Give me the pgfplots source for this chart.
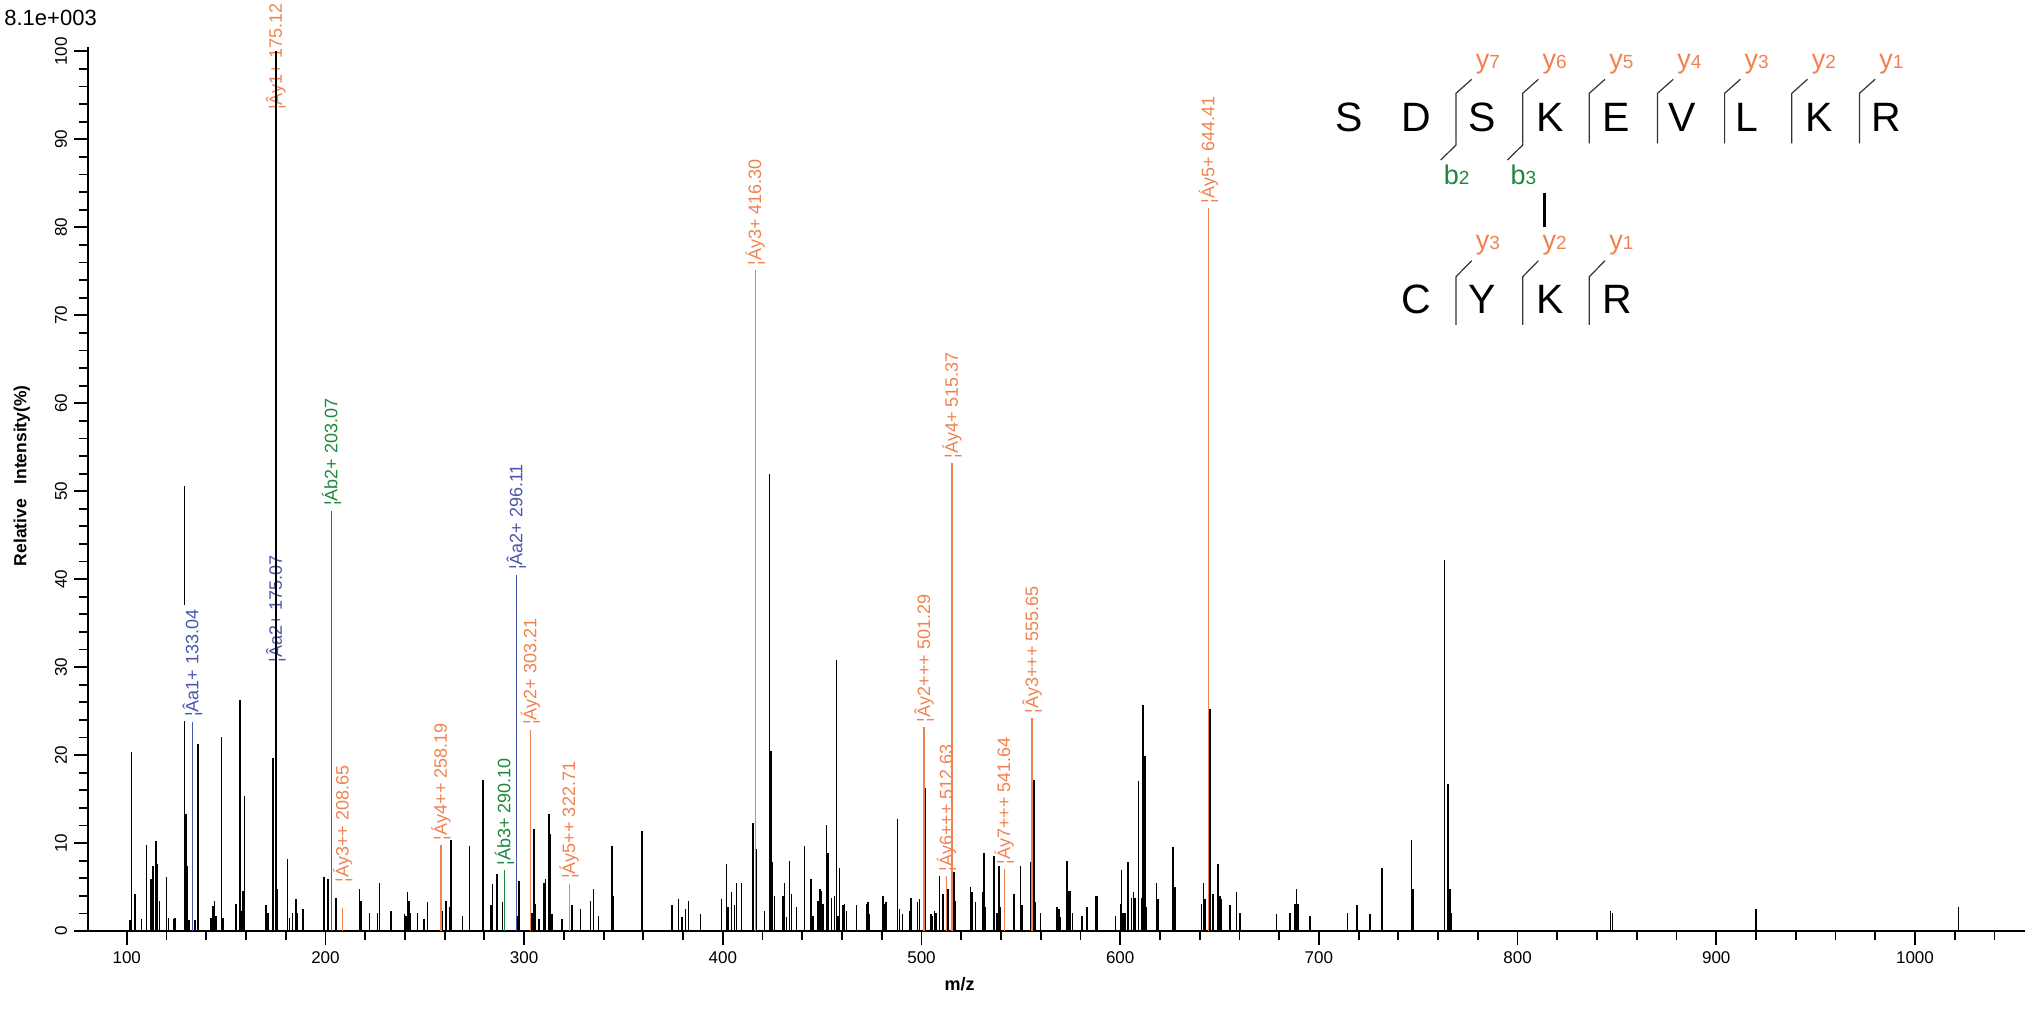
\documentclass[border=0pt]{standalone}
\usepackage{fontspec}
\setmainfont{Liberation Sans}
\usepackage{pgfplots}
\usepackage{pgfplotstable}
\pgfplotsset{compat=1.18}
\definecolor{ionorange}{RGB}{240,130,80}
\definecolor{ionblue}{RGB}{75,85,170}
\definecolor{iongreen}{RGB}{30,135,60}
\tikzset{lbl/.style={rotate=90, anchor=west, inner xsep=2.2pt, inner ysep=0pt, font=\fontsize{9}{10}\selectfont}}

\pgfplotstableread{
mz I
101.7 1.3
102.5 20.4
104.2 4.2
107.5 1.4
109.9 9.8
112.2 5.9
113.1 7.4
114.8 10.2
115.6 7.6
116.4 3.4
120.1 6.1
121.0 1.5
123.5 1.4
124.3 1.5
129.1 50.6
129.9 13.3
130.5 7.4
131.4 1.3
134.4 1.3
135.9 21.3
142.4 1.5
143.3 2.8
144.1 3.4
145.0 1.7
147.6 22.1
148.5 1.5
155.0 3.1
156.9 26.3
157.7 2.3
158.4 4.6
159.2 15.3
170.1 2.9
171.0 2.1
173.5 19.7
176.0 4.8
181.0 8.2
181.9 1.5
183.5 2.1
185.2 3.6
186.0 2.1
188.6 2.5
199.3 6.1
201.2 5.9
205.4 3.8
217.1 4.8
217.8 3.4
222.1 2.1
226.3 2.1
227.2 5.5
233.0 2.3
239.7 1.9
240.6 1.7
241.3 4.4
242.1 3.4
242.9 2.1
246.3 2.1
249.6 1.4
251.3 3.3
259.0 2.3
260.7 3.4
262.4 2.7
263.2 10.3
269.1 1.7
272.5 9.7
279.2 17.2
283.4 3.0
284.2 5.3
286.4 6.5
289.2 3.3
296.6 1.7
297.5 5.7
304.0 2.1
304.9 11.6
305.7 3.1
307.4 1.4
309.9 5.5
310.8 5.9
312.4 13.3
313.2 11.0
314.0 1.9
319.1 1.4
324.1 2.9
328.3 2.5
333.3 3.4
335.0 4.8
337.5 1.7
344.2 9.7
345.1 4.0
359.3 11.4
374.4 2.9
377.8 3.6
379.5 1.6
381.1 2.5
382.8 3.4
388.7 1.9
399.3 3.6
401.8 7.6
402.6 2.7
404.3 4.4
406.0 2.9
406.8 5.5
409.3 5.5
415.2 12.3
416.9 9.3
421.1 2.3
423.5 51.9
424.3 20.5
425.1 7.8
426.0 4.0
430.3 4.0
431.1 5.5
432.0 1.6
433.6 8.0
434.5 4.2
437.0 2.7
441.2 9.7
444.5 5.9
445.4 1.7
447.9 3.4
448.8 4.8
449.6 4.6
450.4 3.1
452.1 12.1
453.0 8.9
454.6 3.8
456.3 4.0
457.1 30.8
458.0 1.7
458.8 7.2
460.5 2.9
461.3 3.1
462.2 2.3
467.2 2.9
472.2 3.1
473.1 3.3
473.9 1.9
480.5 4.0
481.3 3.1
482.1 3.3
488.0 12.7
488.8 2.5
490.5 1.9
493.9 2.3
494.7 3.8
498.1 3.3
498.9 3.6
501.7 16.3
504.8 1.9
505.6 1.7
506.5 2.3
507.3 2.1
509.0 6.3
510.7 4.2
513.4 4.8
516.3 6.7
517.1 3.4
524.7 5.0
525.5 4.4
527.2 3.3
530.6 4.4
531.4 8.9
532.2 2.7
536.4 8.5
538.1 2.1
539.0 7.4
539.8 2.7
546.5 4.2
549.9 7.4
550.7 2.9
554.9 7.8
556.6 17.2
557.4 3.3
559.9 2.1
568.3 2.7
569.2 2.5
570.0 1.6
573.3 8.0
574.2 4.6
575.0 4.6
575.9 2.1
580.9 1.7
583.4 2.7
587.6 4.0
588.4 4.0
597.7 1.7
600.2 3.1
600.7 6.9
601.5 2.1
602.4 2.1
604.0 7.8
605.7 3.8
606.6 4.4
607.4 3.8
609.1 17.0
610.8 3.8
611.6 25.7
612.4 19.9
613.3 2.7
618.3 5.5
619.1 3.6
626.7 9.5
627.5 5.0
641.0 3.1
641.8 5.5
642.6 3.6
645.1 25.2
646.8 4.2
649.3 7.6
650.2 4.0
651.0 3.6
655.2 2.9
658.6 4.4
660.2 2.1
678.7 1.9
685.4 2.1
687.9 3.1
688.8 4.8
689.6 3.1
695.5 1.7
714.5 2.1
719.1 2.9
725.6 1.9
731.8 7.2
746.6 10.3
747.3 4.8
763.3 42.2
764.9 16.7
765.9 4.8
766.6 2.1
846.8 2.3
847.8 2.1
920.0 2.5
1021.9 2.7
}\blackpeaks

\begin{document}
\begin{tikzpicture}
\path[use as bounding box] (0,0) rectangle (1016.5pt,504pt);
\begin{axis}[
  at={(44pt,38.5pt)}, anchor=south west,
  scale only axis, width=968.5pt, height=442pt,
  xmin=80.5, xmax=1055.4, ymin=0, ymax=100.5,
  axis lines=left, axis line style={-, line width=1pt, black},
  xtick={100,200,...,1000}, minor xtick={100,120,...,1040},
  ytick={0,10,...,100}, minor ytick={0,2,...,100},
  tick align=outside, major tick length=7pt, minor tick length=4.5pt,
  every tick/.style={black, line width=0.9pt},
  tick label style={font=\fontsize{8.5}{10}\selectfont},
  /pgf/number format/assume math mode=true,
  /pgf/number format/1000 sep={},
  yticklabel style={rotate=90, anchor=south},
  xlabel={m/z},
  xlabel style={font=\bfseries\fontsize{9}{10}\selectfont, at={(axis description cs:0.45,0)}, anchor=center, yshift=-26.5pt},
  ylabel={Relative\ \ \ Intensity(\%)},
  ylabel style={font=\bfseries\fontsize{8.75}{10}\selectfont, at={(axis description cs:-0.0341,0.515)}, anchor=center},
  clip=false,
]
\addplot[ycomb, black, line width=0.75pt, mark=none] table[x=mz, y=I] {\blackpeaks};
% annotated peaks
\addplot[ycomb, ionorange, line width=0.7pt, mark=none] coordinates {
(208.65,2.6) (258.19,9.8) (303.21,22.9) (322.71,5.4) (416.30,75.1) (501.29,23.2)
(512.63,6.2) (515.37,53.2) (541.64,7.0) (555.65,24.2) (644.41,82.2)};
\addplot[ycomb, ionblue, line width=0.7pt, mark=none] coordinates {
(133.04,23.8) (175.07,30.0) (296.11,40.5)};
\addplot[ycomb, iongreen, line width=0.7pt, mark=none] coordinates {
(203.07,47.8) (290.10,6.9)};
% labels
\node[lbl, ionblue, fill=white, inner ysep=3pt] at (axis cs:133.04,23.8) {¦Âa1+ 133.04};
\node[lbl, ionblue] at (axis cs:175.07,30.0) {¦Âa2+ 175.07};
\node[lbl, ionorange] at (axis cs:175.12,92.8) {¦Ây1+ 175.12};
\node[lbl, iongreen] at (axis cs:203.07,47.8) {¦Áb2+ 203.07};
\node[lbl, ionorange] at (axis cs:208.65,5.0) {¦Áy3++ 208.65};
\node[lbl, ionorange] at (axis cs:258.19,9.8) {¦Áy4++ 258.19};
\node[lbl, iongreen] at (axis cs:290.10,6.9) {¦Áb3+ 290.10};
\node[lbl, ionblue] at (axis cs:296.11,40.5) {¦Âa2+ 296.11};
\node[lbl, ionorange] at (axis cs:303.21,22.9) {¦Áy2+ 303.21};
\node[lbl, ionorange] at (axis cs:322.71,5.4) {¦Áy5++ 322.71};
\node[lbl, ionorange] at (axis cs:416.30,75.1) {¦Áy3+ 416.30};
\node[lbl, ionorange] at (axis cs:501.29,23.2) {¦Ây2+++ 501.29};
\node[lbl, ionorange] at (axis cs:512.63,6.2) {¦Áy6+++ 512.63};
\node[lbl, ionorange] at (axis cs:515.37,53.2) {¦Áy4+ 515.37};
\node[lbl, ionorange] at (axis cs:541.64,7.0) {¦Áy7+++ 541.64};
\node[lbl, ionorange] at (axis cs:555.65,24.2) {¦Ây3+++ 555.65};
\node[lbl, ionorange] at (axis cs:644.41,82.2) {¦Áy5+ 644.41};
% base peak drawn on top
\addplot[ycomb, black, line width=0.75pt, mark=none] coordinates {(175.12,100)};
\end{axis}

\begin{scope}[x=0.5pt, y=-0.5pt, shift={(0pt,504pt)}]
\node[anchor=west, inner sep=0pt, font=\fontsize{11}{12}\selectfont] at (4,18) {8.1e+003};
% alpha peptide
\foreach \xx/\ll in {1349/S,1416/D,1481.7/S,1550/K,1616/E,1682.3/V,1746.7/L,1818.8/K,1886.4/R}
  \node[anchor=base, inner sep=0pt, font=\fontsize{20.5}{24}\selectfont] at (\xx,131.7) {\ll};
\foreach \s/\n in {1456/7,1522.7/6,1589.3/5,1657.5/4,1724.6/3,1791.8/2,1859.4/1} {
  \draw[line width=0.6pt, black!80] (\s+15.7,79.3) -- (\s,93.3) -- (\s,143.3);
  \node[anchor=base, inner sep=0pt, text=ionorange] at (\s+32,68.3) {{\fontsize{13.5}{14}\selectfont y}{\fontsize{9.5}{10}\selectfont \n}};
}
\draw[line width=0.6pt, black!80] (1456,143.3) -- (1456,145) -- (1440.7,160);
\draw[line width=0.6pt, black!80] (1522.7,143.3) -- (1522.7,145) -- (1507.4,160);
\node[anchor=base, inner sep=0pt, text=iongreen] at (1456.7,185) {{\fontsize{13.5}{14}\selectfont b}{\fontsize{9.5}{10}\selectfont 2}};
\node[anchor=base, inner sep=0pt, text=iongreen] at (1523.3,185) {{\fontsize{13.5}{14}\selectfont b}{\fontsize{9.5}{10}\selectfont 3}};
% cross-link
\draw[line width=1.5pt, black] (1544,193) -- (1544,226.7);
% beta peptide
\foreach \xx/\ll in {1416/C,1481.7/Y,1550/K,1617/R}
  \node[anchor=base, inner sep=0pt, font=\fontsize{20.5}{24}\selectfont] at (\xx,313.3) {\ll};
\foreach \s/\n in {1456/3,1522.7/2,1589.3/1} {
  \draw[line width=0.6pt, black!80] (\s+15.7,260.7) -- (\s,276.7) -- (\s,325);
  \node[anchor=base, inner sep=0pt, text=ionorange] at (\s+32,250) {{\fontsize{13.5}{14}\selectfont y}{\fontsize{9.5}{10}\selectfont \n}};
}
\end{scope}
\end{tikzpicture}
\end{document}
